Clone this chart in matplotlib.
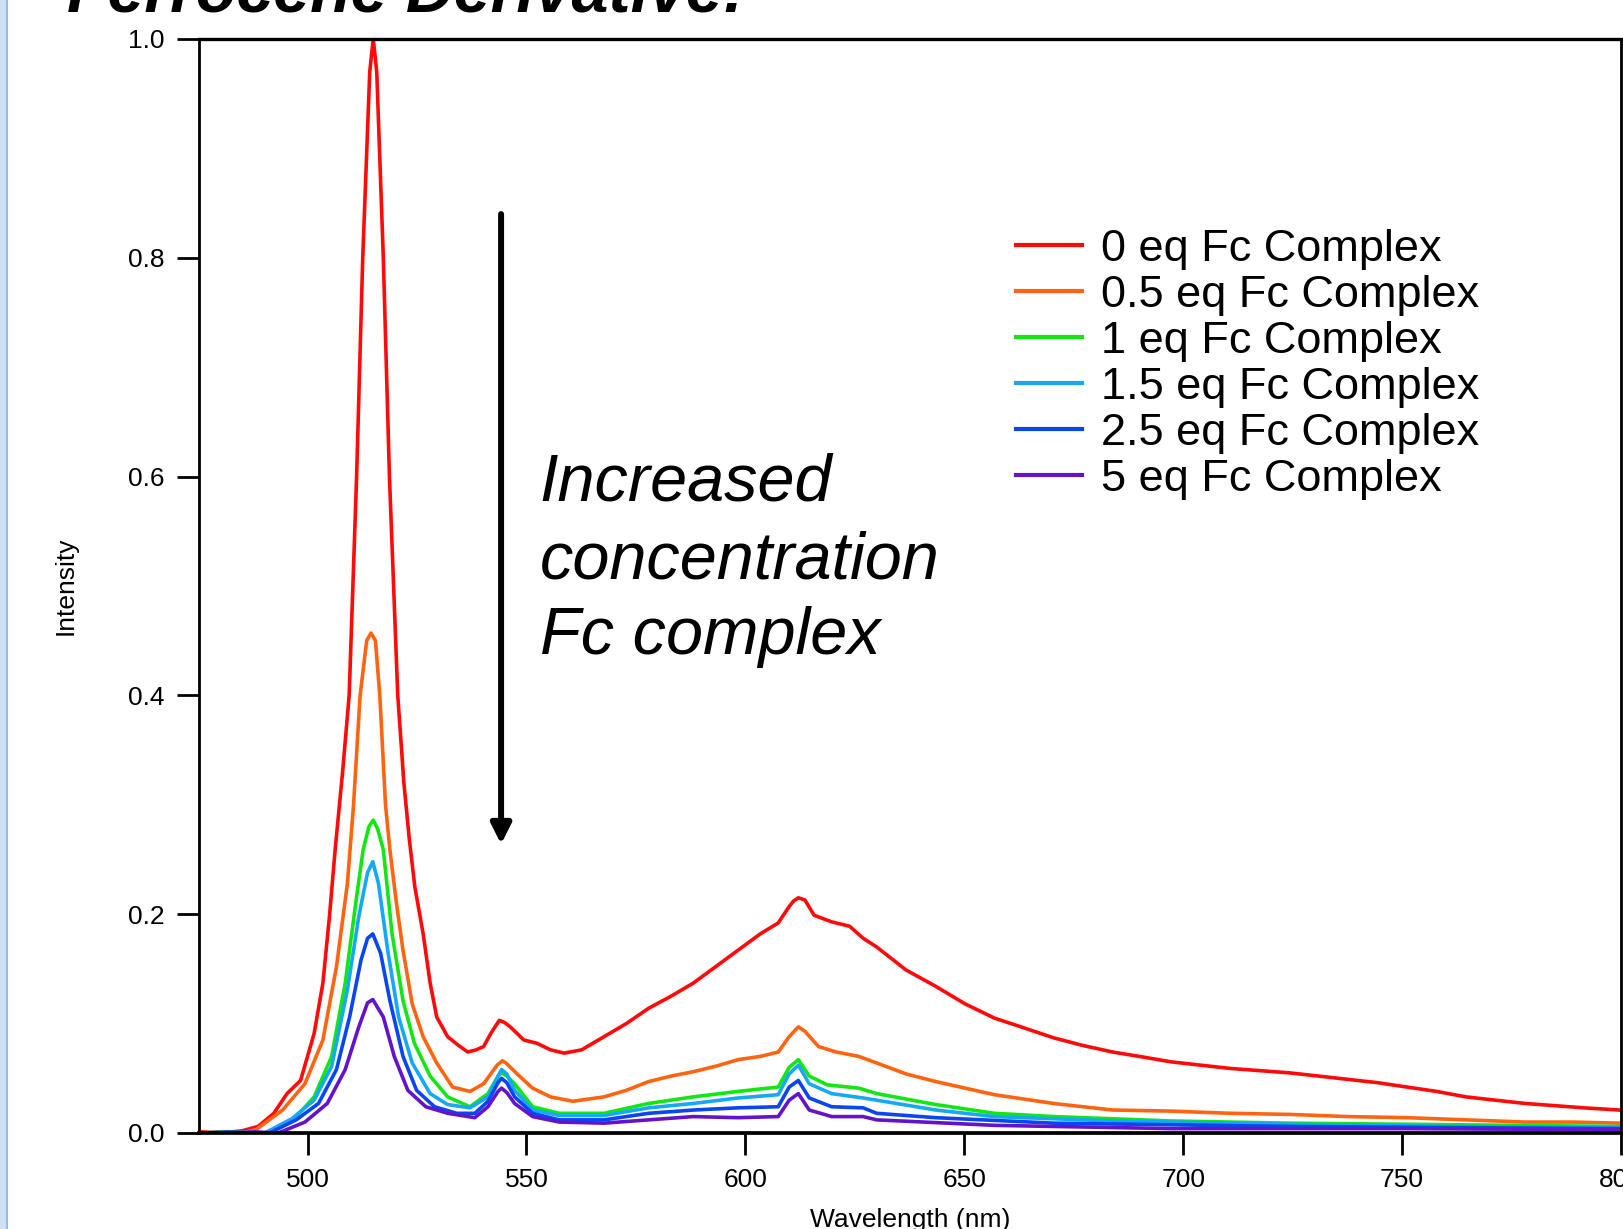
import numpy as np
import matplotlib.pyplot as plt
from matplotlib.patches import Rectangle
from matplotlib.lines import Line2D

plt.rcParams['font.family'] = ['Liberation Sans', 'DejaVu Sans']

# 数据: 荧光光谱
labels = ["0 eq Fc Complex", "0.5 eq Fc Complex", "1 eq Fc Complex",
          "1.5 eq Fc Complex", "2.5 eq Fc Complex", "5 eq Fc Complex"]
colors = ["#ff0a0a", "#ff6410", "#14e614", "#14a8f5", "#0a46f0", "#6414c8"]

wl_0 = [476, 480, 485, 488.7, 492.3, 495.3, 498.4, 501.5, 503.5, 505.0, 506.3, 508.0, 509.5, 511.2,
        512.6, 514.2, 515.0, 515.8, 517.3, 518.7, 520.6, 522.0, 523.2, 524.5, 526.4, 528.0, 529.5,
        532.0, 534.5, 536.6, 538.5, 540.2, 542.0, 543.8, 545.0, 546.3, 549.4, 552.4, 555.5, 558.6,
        562.6, 567.7, 572.8, 577.9, 583.0, 588.1, 593.2, 598.3, 603.4, 607.5, 610.0, 611.0, 612.1,
        613.6, 615.7, 619.7, 623.8, 626.9, 630.0, 636.7, 643.5, 650.2, 656.9, 663.7, 670.4, 677.1,
        683.9, 690.0, 697.3, 704.0, 710.8, 717.5, 724.2, 731.0, 737.7, 744.4, 751.1, 757.9, 764.6,
        771.3, 778.1, 784.8, 791.5, 799.6]
int_0 = [0.001, 0.0, 0.002, 0.006, 0.018, 0.036, 0.048, 0.091, 0.137, 0.198, 0.259, 0.33, 0.40, 0.60,
         0.80, 0.97, 1.0, 0.97, 0.80, 0.60, 0.40, 0.32, 0.27, 0.225, 0.182, 0.137, 0.106,
         0.088, 0.080, 0.074, 0.076, 0.079, 0.092, 0.103, 0.101, 0.097, 0.085, 0.082, 0.076, 0.073,
         0.076, 0.088, 0.100, 0.114, 0.125, 0.137, 0.152, 0.167, 0.182, 0.192, 0.207, 0.212, 0.215,
         0.213, 0.199, 0.193, 0.189, 0.178, 0.170, 0.149, 0.134, 0.118, 0.105, 0.096, 0.087, 0.080,
         0.074, 0.070, 0.065, 0.062, 0.059, 0.057, 0.055, 0.052, 0.049, 0.046, 0.042, 0.038, 0.033,
         0.030, 0.027, 0.025, 0.023, 0.021]

wl_05 = [476, 480, 485, 488.2, 494.3, 499.4, 503.5, 506.6, 509.1, 510.5, 512.0, 513.5, 514.5, 515.5,
         516.5, 517.8, 518.8, 520.3, 521.8, 523.9, 526.4, 529.5, 533.1, 537.1, 540.2, 543.3, 544.5,
         545.3, 548.4, 551.4, 555.5, 560.6, 567.7, 572.8, 577.9, 583.0, 588.1, 593.2, 598.3, 603.4,
         607.5, 610.0, 612.1, 613.6, 616.7, 620.8, 625.9, 630.0, 636.7, 643.5, 650.2, 656.9, 663.7,
         670.4, 677.1, 683.9, 697.3, 710.8, 724.2, 737.7, 751.1, 764.6, 778.1, 789.0, 799.6]
int_05 = [0.0, 0.001, 0.0, 0.003, 0.021, 0.045, 0.085, 0.152, 0.228, 0.30, 0.40, 0.45, 0.457, 0.45,
          0.40, 0.30, 0.259, 0.21, 0.167, 0.118, 0.088, 0.064, 0.042, 0.038, 0.045, 0.062, 0.066,
          0.064, 0.052, 0.041, 0.033, 0.029, 0.033, 0.039, 0.047, 0.052, 0.056, 0.061, 0.067, 0.070,
          0.074, 0.088, 0.097, 0.093, 0.079, 0.074, 0.070, 0.064, 0.054, 0.047, 0.041, 0.035, 0.031,
          0.027, 0.024, 0.021, 0.020, 0.018, 0.017, 0.015, 0.014, 0.012, 0.010, 0.010, 0.009]

wl_1 = [476, 482, 487, 491.3, 497.4, 501.5, 505.5, 508.6, 511.1, 512.7, 514.0, 515.0, 516.0, 517.3,
        519.3, 521.8, 524.4, 528.0, 532.0, 537.1, 541.2, 543.5, 544.3, 545.5, 547.3, 551.4, 557.5,
        567.7, 577.9, 588.1, 598.3, 607.5, 610.0, 612.1, 614.6, 618.7, 625.9, 630.0, 643.5, 656.9,
        670.4, 683.9, 697.3, 724.2, 751.1, 775.0, 799.6]
int_1 = [0.0, 0.001, 0.0, 0.0, 0.015, 0.033, 0.070, 0.137, 0.213, 0.259, 0.280, 0.286, 0.278, 0.259,
         0.182, 0.121, 0.082, 0.052, 0.033, 0.024, 0.036, 0.052, 0.055, 0.052, 0.045, 0.024, 0.018,
         0.018, 0.027, 0.033, 0.038, 0.042, 0.060, 0.067, 0.052, 0.044, 0.041, 0.036, 0.026, 0.018,
         0.015, 0.013, 0.011, 0.009, 0.008, 0.007, 0.006]

wl_15 = [476, 482, 487, 490.2, 496.4, 501.5, 505.5, 509.1, 511.7, 513.7, 514.9, 516.2, 518.3, 520.8,
         523.9, 528.0, 532.0, 537.1, 541.2, 543.5, 544.3, 545.5, 547.3, 551.4, 557.5, 567.7, 577.9,
         588.1, 598.3, 607.5, 610.0, 612.1, 614.6, 619.7, 626.9, 630.0, 643.5, 656.9, 683.9, 724.2,
         760.0, 799.6]
int_15 = [0.0, 0.0, 0.001, 0.0, 0.013, 0.030, 0.061, 0.131, 0.198, 0.238, 0.248, 0.228, 0.167, 0.106,
          0.064, 0.036, 0.026, 0.023, 0.033, 0.052, 0.058, 0.054, 0.039, 0.021, 0.016, 0.016, 0.023,
          0.027, 0.032, 0.035, 0.054, 0.062, 0.045, 0.036, 0.032, 0.030, 0.021, 0.015, 0.011, 0.008,
          0.006, 0.005]

wl_25 = [476, 482, 487, 491.3, 497.4, 502.5, 506.6, 509.6, 512.2, 513.7, 514.9, 516.7, 518.8, 521.8,
         524.9, 529.0, 534.1, 538.2, 541.2, 543.5, 544.3, 545.5, 547.3, 551.4, 557.5, 567.7, 577.9,
         588.1, 598.3, 607.5, 610.0, 612.1, 614.6, 619.7, 626.9, 630.0, 643.5, 670.4, 724.2, 760.0,
         799.6]
int_25 = [0.0, 0.001, 0.0, 0.0, 0.012, 0.027, 0.058, 0.106, 0.158, 0.178, 0.182, 0.164, 0.121, 0.070,
          0.039, 0.024, 0.018, 0.018, 0.029, 0.046, 0.050, 0.046, 0.033, 0.018, 0.012, 0.012, 0.018,
          0.021, 0.023, 0.024, 0.042, 0.048, 0.032, 0.024, 0.023, 0.018, 0.014, 0.009, 0.006, 0.005,
          0.004]

wl_5 = [476, 483, 488, 493.3, 499.4, 504.5, 508.6, 511.7, 513.7, 514.9, 517.3, 519.8, 522.9, 527.0,
        532.0, 538.2, 541.2, 543.5, 544.3, 545.5, 547.3, 551.4, 557.5, 567.7, 577.9, 588.1, 598.3,
        607.5, 610.0, 612.1, 614.6, 619.7, 626.9, 630.0, 656.9, 697.3, 750.0, 799.6]
int_5 = [0.0, 0.0, 0.001, 0.0, 0.010, 0.027, 0.058, 0.097, 0.119, 0.122, 0.106, 0.070, 0.039, 0.024,
         0.018, 0.014, 0.024, 0.038, 0.041, 0.037, 0.027, 0.015, 0.010, 0.009, 0.012, 0.015, 0.014,
         0.015, 0.030, 0.036, 0.021, 0.015, 0.015, 0.012, 0.007, 0.004, 0.004, 0.003]

wavelengths = [wl_0, wl_05, wl_1, wl_15, wl_25, wl_5]
intensities = [int_0, int_05, int_1, int_15, int_25, int_5]

yticks = [0.0, 0.2, 0.4, 0.6, 0.8, 1.0]
xticks = [500, 550, 600, 650, 700, 750, 800]

W, H = 1624, 1229
fig = plt.figure(figsize=(W / 100, H / 100), dpi=100)
ax = fig.add_axes([199 / W, 1 - 1133 / H, 1422 / W, 1094 / H])

for wl, it, c, lab in zip(wavelengths, intensities, colors, labels):
    ax.plot(wl, it, color=c, lw=2.6, label=lab)

ax.set_xlim(475.2, 800)
ax.set_ylim(0, 1.0)
ax.set_xticks(xticks)
ax.set_yticks(yticks)
ax.set_yticklabels(["%.1f" % v for v in yticks])
ax.tick_params(direction='out', length=16, width=2, labelsize=19, pad=9)
for s in ['left', 'right']:
    ax.spines[s].set_linewidth(2)
ax.spines['top'].set_linewidth(2.4)
ax.spines['bottom'].set_linewidth(2.7)

ax.set_xlabel("Wavelength (nm)", fontsize=19)
ax.xaxis.set_label_coords(0.5, -0.069)
ax.set_ylabel("Intensity", fontsize=19, va='center')
ax.yaxis.set_label_coords(-0.094, 0.5)

# 箭头和注释
ax.annotate('', xy=(544.2, 0.264), xytext=(544.2, 0.840),
            arrowprops=dict(arrowstyle='-|>', lw=4.3, color='black', mutation_scale=30,
                            shrinkA=0, shrinkB=0))
for txt, yb in zip(["Increased", "concentration", "Fc complex"], [0.5786, 0.5064, 0.4378]):
    ax.text(553.0, yb, txt, fontsize=48, style='italic', va='baseline', ha='left')

leg = ax.legend(loc='upper left', bbox_to_anchor=(1016 / W, 1 - 229 / H), bbox_transform=fig.transFigure,
                frameon=False, borderpad=0, borderaxespad=0, handlelength=1.47, handletextpad=0.41,
                labelspacing=0.11, fontsize=32.5)
for ln in leg.get_lines():
    ln.set_linewidth(3)

# 标题 (被截断) 和左侧边框
fig.text(67 / W, 1 - 12 / H, "Ferrocene Derivative:", fontsize=47.7, fontweight='bold',
         fontstyle='italic', va='baseline', ha='left')
fig.patches.append(Rectangle((0, 0), 6 / W, 1, transform=fig.transFigure, color='#cfe0f3', zorder=0))
fig.lines.append(Line2D([7 / W, 7 / W], [0, 1], transform=fig.transFigure, color='#95bbe8', lw=1.5))

fig.savefig("out.png", dpi=100)
